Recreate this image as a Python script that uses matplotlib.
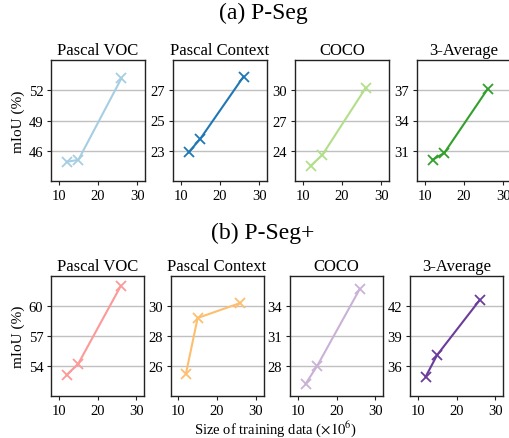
import matplotlib
matplotlib.use("Agg")
import matplotlib.pyplot as plt

plt.rcParams['font.family'] = ['Liberation Serif', 'DejaVu Serif']
plt.rcParams['mathtext.fontset'] = 'stix'

# ---- data ----
datasets = ["Pascal VOC", "Pascal Context", "COCO", "3-Average"]
train_size = [12, 15, 26]

pseg_voc = [44.9, 45.1, 53.2]
pseg_ctx = [22.9, 23.8, 27.9]
pseg_coco = [22.5, 23.6, 30.2]
pseg_avg = [30.1, 30.8, 37.1]

psegp_voc = [53.1, 54.2, 62.0]
psegp_ctx = [25.5, 29.2, 30.2]
psegp_coco = [26.2, 28.0, 35.7]
psegp_avg = [34.9, 37.1, 42.6]

pseg_yticks = [[46, 49, 52], [23, 25, 27], [24, 27, 30], [31, 34, 37]]
psegp_yticks = [[54, 57, 60], [26, 28, 30], [28, 31, 34], [36, 39, 42]]
xticks = [10, 20, 30]

pseg_colors = ['#a6cee3', '#1f78b4', '#b2df8a', '#33a02c']
psegp_colors = ['#fb9a99', '#fdbf6f', '#cab2d6', '#6a3d9a']

W, H = 509, 439
fig = plt.figure(figsize=(W / 100, H / 100), dpi=100)


def px_axes(left, top, width, height):
    return fig.add_axes([left / W, 1 - (top + height) / H, width / W, height / H])


def draw_row(series, yticks_list, colors, lefts, width, top, height):
    for i, (vals, yt, col, left) in enumerate(zip(series, yticks_list, colors, lefts)):
        ax = px_axes(left, top, width, height)
        step = yt[1] - yt[0]
        ax.plot(train_size, vals, color=col, lw=1.5, marker='x', ms=7, mew=1.3, zorder=3)
        ax.set_xlim(8, 32)
        ax.set_xticks(xticks)
        ax.set_yticks(yt)
        ax.set_ylim(yt[0] - step, yt[-1] + step)
        ax.yaxis.grid(True, color='#c0c0c0', lw=1.0, zorder=0)
        ax.set_axisbelow(True)
        ax.tick_params(axis='both', labelsize=10.5, length=3, width=0.8, pad=2.5, color='#222222')
        for sp in ax.spines.values():
            sp.set_color('#222222')
            sp.set_linewidth(1.0)
        ax.set_title(datasets[i], fontsize=12, pad=4)
        if i == 0:
            ax.set_ylabel("mIoU (%)", fontsize=11, labelpad=3)


draw_row([pseg_voc, pseg_ctx, pseg_coco, pseg_avg], pseg_yticks, pseg_colors,
         [51, 173, 295, 417], 94, 61, 121)
draw_row([psegp_voc, psegp_ctx, psegp_coco, psegp_avg], psegp_yticks, psegp_colors,
         [51, 170.5, 290, 410], 93, 277, 120)

fig.text(263 / W, 1 - 13 / H, "(a) P-Seg", ha='center', va='center', fontsize=17)
fig.text(263 / W, 1 - 233 / H, "(b) P-Seg+", ha='center', va='center', fontsize=17)
fig.text(276 / W, 1 - 429 / H, "Size of training data ($\\times 10^6$)", ha='center', va='center', fontsize=10.5)

fig.savefig("out.png", dpi=100)
